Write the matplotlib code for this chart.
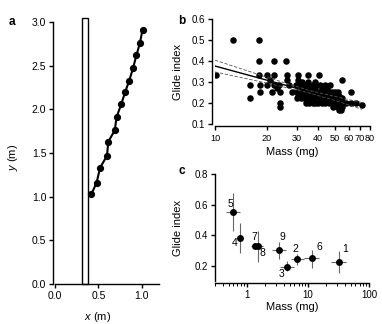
import matplotlib
matplotlib.use('Agg')
import matplotlib.pyplot as plt
from matplotlib.patches import Rectangle
from matplotlib.ticker import FixedLocator, FuncFormatter, LogLocator, NullFormatter

plt.rcParams['font.family'] = ['Liberation Sans', 'DejaVu Sans']
plt.rcParams['mathtext.fontset'] = 'custom'
plt.rcParams['mathtext.rm'] = 'Liberation Sans'
plt.rcParams['mathtext.it'] = 'Liberation Sans:italic'
plt.rcParams['font.size'] = 7.5

# a: glide trajectory from the trunk
traj_x = [0.42, 0.48, 0.52, 0.60, 0.615, 0.69, 0.71, 0.765, 0.81, 0.857, 0.90, 0.94, 0.98, 1.01]
traj_y = [1.03, 1.16, 1.33, 1.47, 1.63, 1.76, 1.91, 2.06, 2.20, 2.33, 2.47, 2.62, 2.76, 2.91]
trunk_left = 0.315
trunk_width = 0.07
trunk_height = 3.05

# b: glide index of individual trials against body mass
mass_b = [12.7, 18.0,
          18.0, 22.1, 26.0,
          10.1, 18.0, 20.2, 22.1, 26.3, 30.5, 34.7, 40.3,
          21.0, 26.3, 30.5, 32.0, 35.0, 38.0, 54.7,
          16.1, 18.3, 20.1, 22.1, 23.7, 27.0, 29.5, 31.0, 33.0, 35.0, 37.0, 39.0, 41.0, 44.0, 47.0,
          23.0, 32.0, 34.0, 36.0, 38.0, 42.0, 45.0,
          18.3, 21.4, 24.0, 28.0, 30.0, 31.5, 33.0, 34.5, 36.0, 37.5, 39.0, 40.5, 42.0, 44.0, 46.0,
          48.0, 50.0, 52.0, 62.3,
          30.5, 32.5, 34.5, 36.5, 38.5, 41.0, 43.0, 45.0, 47.0, 49.5, 53.0,
          16.1, 30.0, 31.5, 33.0, 35.0, 36.5, 38.0, 40.0, 42.0, 44.0, 46.0, 49.0, 51.0, 55.0,
          24.0, 34.0, 35.5, 37.0, 38.5, 40.0, 42.0, 44.0, 46.0, 48.0, 50.0, 52.0, 54.0, 58.0, 62.0, 66.0,
          24.0, 49.0, 52.0, 55.0,
          53.0, 54.5,
          72.0]
glide_b = [0.5, 0.5,
           0.4, 0.4, 0.4,
           0.333, 0.333, 0.333, 0.333, 0.333, 0.333, 0.333, 0.333,
           0.308, 0.308, 0.308, 0.3, 0.3, 0.3, 0.308,
           0.286, 0.286, 0.286, 0.286, 0.286, 0.286, 0.286, 0.286, 0.286, 0.286, 0.286, 0.286, 0.286, 0.286, 0.286,
           0.27, 0.27, 0.27, 0.27, 0.27, 0.27, 0.27,
           0.25, 0.25, 0.25, 0.25, 0.25, 0.25, 0.25, 0.25, 0.25, 0.25, 0.25, 0.25, 0.25, 0.25, 0.25,
           0.25, 0.25, 0.25, 0.25,
           0.235, 0.235, 0.235, 0.235, 0.235, 0.235, 0.235, 0.235, 0.235, 0.235, 0.235,
           0.222, 0.222, 0.222, 0.222, 0.222, 0.222, 0.222, 0.222, 0.222, 0.222, 0.222, 0.222, 0.222, 0.222,
           0.2, 0.2, 0.2, 0.2, 0.2, 0.2, 0.2, 0.2, 0.2, 0.2, 0.2, 0.2, 0.2, 0.2, 0.2, 0.2,
           0.182, 0.182, 0.182, 0.182,
           0.167, 0.167,
           0.19]

# regression line and 95% band
fit_mass = [10, 20, 35, 50, 72]
fit_mid = [0.376, 0.309, 0.255, 0.221, 0.186]
fit_upper = [0.404, 0.323, 0.261, 0.231, 0.202]
fit_lower = [0.348, 0.295, 0.249, 0.212, 0.170]

# c: species means
species = ['1', '2', '3', '4', '5', '6', '7', '8', '9']
mass_c = [32.4, 6.66, 4.58, 0.763, 0.594, 11.6, 1.35, 1.54, 3.37]
glide_c = [0.224, 0.244, 0.19, 0.38, 0.552, 0.248, 0.33, 0.326, 0.30]
mass_lo = [23.8, 5.2, 3.45, 0.763, 0.453, 8.5, 1.35, 1.18, 2.53]
mass_hi = [42.5, 8.75, 5.88, 0.763, 0.763, 15.3, 1.35, 1.86, 4.42]
glide_lo = [0.152, 0.206, 0.163, 0.283, 0.43, 0.185, 0.33, 0.222, 0.244]
glide_hi = [0.293, 0.278, 0.228, 0.478, 0.674, 0.304, 0.33, 0.428, 0.352]
# label offsets in pixels
label_dx = [6, -2, -6, -5, -3, 7, -1, 4, 3]
label_dy = [13, 10, -7, -5, 8, 11, 9, -7, 13]

W, H = 382, 324
fig = plt.figure(figsize=(W / 100, H / 100), dpi=100)


def box(l, t, r, b):
    return [l / W, 1 - b / H, (r - l) / W, (b - t) / H]


def style(ax, left_off=0, bottom_off=0):
    for s in ['top', 'right']:
        ax.spines[s].set_visible(False)
    for s in ['left', 'bottom']:
        ax.spines[s].set_linewidth(1.0)
    ax.spines['left'].set_position(('outward', left_off))
    ax.spines['bottom'].set_position(('outward', bottom_off))
    ax.tick_params(direction='out', length=3, width=1.0, pad=2, labelsize=7)
    ax.tick_params(which='minor', direction='out', length=1.8, width=0.7)


# panel a
ax = fig.add_axes(box(55, 22, 159, 284))
ax.add_patch(Rectangle((trunk_left, 0), trunk_width, trunk_height, facecolor='white',
                       edgecolor='black', linewidth=1.0, clip_on=False, zorder=1))
ax.plot(traj_x, traj_y, color='black', linewidth=1.5, marker='o', markersize=5.2,
        markeredgewidth=0, zorder=3)
ax.set_xlim(0, 1.2)
ax.set_ylim(0, 3.0)
ax.set_xticks([0.0, 0.5, 1.0])
ax.set_yticks([0.0, 0.5, 1.0, 1.5, 2.0, 2.5, 3.0])
ax.xaxis.set_major_formatter(FuncFormatter(lambda v, p: '%.1f' % v))
ax.yaxis.set_major_formatter(FuncFormatter(lambda v, p: '%.1f' % v))
style(ax, left_off=1.3)
ax.tick_params(labelsize=7.5)
ax.set_xlabel(r'$x$ (m)', fontsize=8)
ax.set_ylabel(r'$y$ (m)', fontsize=8)
ax.xaxis.set_label_coords((98 - 55) / 104, -(310 - 284) / 262)
ax.yaxis.set_label_coords((20 - 55) / 104, (284 - 157) / 262)

# panel b
ax = fig.add_axes(box(215, 19, 370, 124))
ax.scatter(mass_b, glide_b, s=22, color='black', linewidths=0, zorder=2)
ax.plot(fit_mass, fit_mid, color='black', linewidth=1.0, zorder=3)
ax.plot(fit_mass, fit_upper, color='#555555', linewidth=0.6, linestyle=(0, (4, 2)), zorder=3)
ax.plot(fit_mass, fit_lower, color='#555555', linewidth=0.6, linestyle=(0, (4, 2)), zorder=3)
ax.set_xscale('log')
ax.set_xlim(10, 80)
ax.set_ylim(0.1, 0.6)
ax.xaxis.set_major_locator(FixedLocator([10, 20, 30, 40, 50, 60, 70, 80]))
ax.xaxis.set_minor_locator(FixedLocator([]))
ax.xaxis.set_major_formatter(FuncFormatter(lambda v, p: '%d' % v))
ax.set_yticks([0.1, 0.2, 0.3, 0.4, 0.5, 0.6])
ax.yaxis.set_major_formatter(FuncFormatter(lambda v, p: '%.1f' % v))
style(ax, left_off=2.4, bottom_off=1.4)
ax.tick_params(axis='x', labelsize=6.6, pad=3)
ax.set_xlabel('Mass (mg)', fontsize=8)
ax.set_ylabel('Glide index', fontsize=8)
ax.xaxis.set_label_coords(0.5, -(147 - 124) / 105)
ax.yaxis.set_label_coords((183 - 215) / 155, 0.5)

# panel c
ax = fig.add_axes(box(215, 174, 369, 281))
for i in range(len(species)):
    xe = [[mass_c[i] - mass_lo[i]], [mass_hi[i] - mass_c[i]]]
    ye = [[glide_c[i] - glide_lo[i]], [glide_hi[i] - glide_c[i]]]
    ax.errorbar([mass_c[i]], [glide_c[i]], xerr=xe, yerr=ye, fmt='o', color='black',
                markersize=5, markeredgewidth=0, ecolor='#666666', elinewidth=0.8,
                capsize=1.6, capthick=0.8, zorder=3)
    ax.annotate(species[i], (mass_c[i], glide_c[i]), xytext=(label_dx[i] * 0.72, label_dy[i] * 0.72),
                textcoords='offset points', ha='center', va='center', fontsize=7.5)
ax.set_xscale('log')
ax.set_xlim(0.3, 100)
ax.set_ylim(0.1, 0.8)
ax.xaxis.set_major_locator(FixedLocator([1, 10, 100]))
ax.xaxis.set_minor_locator(LogLocator(base=10, subs=range(2, 10)))
ax.xaxis.set_minor_formatter(NullFormatter())
ax.xaxis.set_major_formatter(FuncFormatter(lambda v, p: '%d' % v))
ax.set_yticks([0.2, 0.4, 0.6, 0.8])
ax.yaxis.set_major_formatter(FuncFormatter(lambda v, p: '%.1f' % v))
style(ax, left_off=0, bottom_off=1.4)
ax.set_xlabel('Mass (mg)', fontsize=8)
ax.set_ylabel('Glide index', fontsize=8)
ax.xaxis.set_label_coords(0.5, -(302 - 281) / 107)
ax.yaxis.set_label_coords((183 - 215) / 154, 0.5)

# panel letters
for letter, (px, py) in zip(['a', 'b', 'c'], [(11.7, 22), (182, 21.5), (182, 171.5)]):
    fig.text(px / W, 1 - py / H, letter, fontsize=8.5, fontweight='bold', ha='center', va='center')

fig.savefig('out.png', dpi=100)
